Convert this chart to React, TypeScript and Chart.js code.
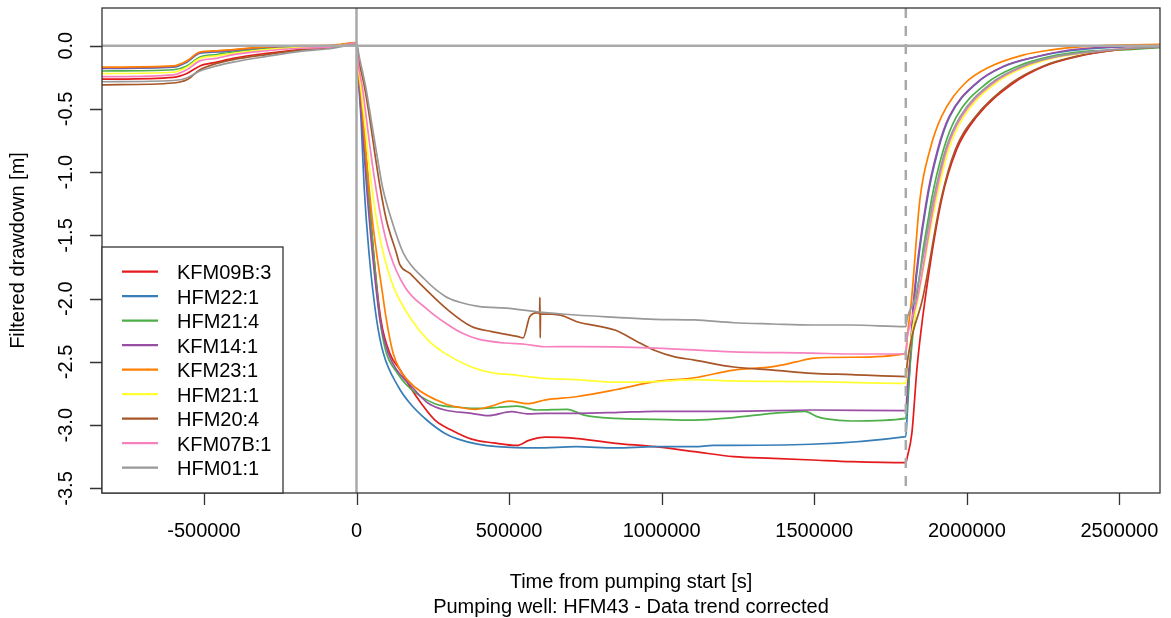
import { useEffect, useRef } from "react";
import { Chart, registerables } from "chart.js";

Chart.register(...registerables);

const FONT = '"Liberation Sans", Arial, Helvetica, sans-serif';

const seriesNames = ["KFM09B:3", "HFM22:1", "HFM21:4", "KFM14:1", "KFM23:1", "HFM21:1", "HFM20:4", "KFM07B:1", "HFM01:1"];
const seriesColors = ["#E41A1C", "#377EB8", "#4DAF4A", "#984EA3", "#FF7F00", "#FFFF33", "#A65628", "#F781BF", "#999999"];

const xTickValues = [-500000, 0, 500000, 1000000, 1500000, 2000000, 2500000];
const xTickLabels = ["-500000", "0", "500000", "1000000", "1500000", "2000000", "2500000"];
const yTickValues = [0, -0.5, -1, -1.5, -2, -2.5, -3, -3.5];
const yTickLabels = ["0.0", "-0.5", "-1.0", "-1.5", "-2.0", "-2.5", "-3.0", "-3.5"];

const xTitle = "Time from pumping start [s]";
const xSubTitle = "Pumping well: HFM43 - Data trend corrected";
const yTitle = "Filtered drawdown [m]";

const pumpStart = 0;
const pumpStop = 1800000;
const xMin = -834000;
const xMax = 2633000;
const yMin = -3.536;
const yMax = 0.298;

// [time (s), drawdown (m)]
const kfm09b3 = [
  [-834000, -0.265], [-600000, -0.25], [-556000, -0.22], [-513000, -0.16], [-458000, -0.13], [-404000, -0.1], [-294000, -0.06], [-185000, -0.03], [-76000, -0.012], [0, 0.015],
  [8000, -0.2], [22000, -0.587], [39000, -1.115], [56000, -1.641], [80000, -2.168], [109000, -2.432], [142000, -2.56], [175000, -2.696], [213000, -2.83], [257000, -2.96], [312000, -3.04], [377000, -3.11], [450000, -3.14], [526000, -3.16], [565000, -3.12], [620000, -3.095], [700000, -3.1], [849000, -3.143], [978000, -3.17], [1107000, -3.209], [1236000, -3.249], [1365000, -3.262], [1494000, -3.275], [1623000, -3.288], [1800000, -3.296],
  [1805000, -3.25], [1820000, -3.06], [1837000, -2.54], [1863000, -2.01], [1917000, -1.22], [1966000, -0.824], [2032000, -0.561], [2152000, -0.297], [2250000, -0.166], [2360000, -0.087], [2491000, -0.034], [2633000, -0.008],
];
const hfm22_1 = [
  [-834000, -0.18], [-600000, -0.17], [-556000, -0.13], [-513000, -0.06], [-458000, -0.05], [-404000, -0.04], [-294000, -0.015], [-185000, -0.005], [-76000, 0.0], [0, 0.02],
  [6000, -0.25], [15000, -0.587], [25000, -1.115], [41000, -1.641], [66000, -2.168], [88000, -2.432], [137000, -2.696], [175000, -2.827], [230000, -2.959], [290000, -3.065], [333000, -3.11], [397000, -3.15], [462000, -3.17], [591000, -3.18], [720000, -3.17], [849000, -3.18], [978000, -3.17], [1107000, -3.17], [1170000, -3.16], [1800000, -3.09],
  [1805000, -2.9], [1812000, -2.6], [1828000, -2.0], [1870000, -1.22], [1906000, -0.824], [1944000, -0.561], [2032000, -0.297], [2119000, -0.166], [2229000, -0.087], [2338000, -0.04], [2491000, -0.012], [2633000, 0.0],
];
const hfm21_4 = [
  [-834000, -0.2], [-600000, -0.19], [-556000, -0.16], [-513000, -0.09], [-458000, -0.07], [-404000, -0.05], [-294000, -0.02], [-185000, -0.01], [-76000, -0.005], [0, 0.015],
  [7000, -0.22], [19000, -0.587], [37000, -1.115], [56000, -1.641], [77000, -2.168], [98000, -2.432], [126000, -2.56], [170000, -2.696], [257000, -2.83], [344000, -2.86], [400000, -2.867], [460000, -2.86], [526000, -2.85], [591000, -2.88], [690000, -2.875], [746000, -2.92], [849000, -2.946], [978000, -2.954], [1107000, -2.96], [1236000, -2.94], [1365000, -2.906], [1470000, -2.89], [1507000, -2.93], [1540000, -2.95], [1623000, -2.967], [1800000, -2.946],
  [1805000, -2.8], [1815000, -2.5], [1835000, -2.0], [1884000, -1.22], [1923000, -0.824], [1966000, -0.561], [2065000, -0.297], [2163000, -0.166], [2272000, -0.087], [2380000, -0.047], [2540000, -0.029], [2633000, -0.015],
];
const kfm14_1 = [
  [-834000, -0.175], [-600000, -0.165], [-556000, -0.125], [-513000, -0.055], [-458000, -0.045], [-404000, -0.035], [-294000, -0.012], [-185000, -0.003], [-76000, 0.0], [0, 0.02],
  [6000, -0.22], [17000, -0.587], [33000, -1.115], [52000, -1.641], [77000, -2.168], [104000, -2.432], [131000, -2.56], [181000, -2.696], [235000, -2.827], [290000, -2.88], [377000, -2.906], [432000, -2.925], [508000, -2.893], [560000, -2.91], [617000, -2.906], [720000, -2.906], [849000, -2.9], [978000, -2.89], [1236000, -2.89], [1494000, -2.88], [1800000, -2.885],
  [1805000, -2.7], [1812000, -2.5], [1826000, -2.0], [1868000, -1.22], [1904000, -0.824], [1942000, -0.561], [2030000, -0.297], [2117000, -0.166], [2227000, -0.087], [2336000, -0.034], [2491000, -0.008], [2633000, 0.005],
];
const kfm23_1 = [
  [-834000, -0.17], [-600000, -0.16], [-556000, -0.12], [-513000, -0.05], [-458000, -0.04], [-404000, -0.03], [-294000, -0.01], [-185000, 0.0], [-76000, 0.005], [0, 0.025],
  [5000, -0.2], [12000, -0.324], [22000, -0.587], [31000, -0.851], [41000, -1.115], [52000, -1.378], [66000, -1.641], [82000, -1.905], [98000, -2.168], [120000, -2.432], [142000, -2.56], [192000, -2.7], [290000, -2.83], [340000, -2.86], [390000, -2.875], [440000, -2.85], [500000, -2.81], [560000, -2.83], [620000, -2.8], [720000, -2.775], [849000, -2.72], [978000, -2.656], [1107000, -2.625], [1236000, -2.564], [1365000, -2.537], [1440000, -2.5], [1494000, -2.471], [1623000, -2.463], [1800000, -2.432],
  [1805000, -2.3], [1819000, -2.0], [1846000, -1.22], [1879000, -0.824], [1917000, -0.561], [1994000, -0.297], [2076000, -0.166], [2184000, -0.074], [2272000, -0.035], [2380000, -0.008], [2491000, 0.005], [2633000, 0.01],
];
const hfm21_1 = [
  [-834000, -0.22], [-600000, -0.21], [-556000, -0.17], [-513000, -0.1], [-458000, -0.08], [-404000, -0.06], [-294000, -0.03], [-185000, -0.015], [-76000, -0.005], [0, 0.02],
  [5000, -0.15], [14000, -0.324], [26000, -0.587], [37000, -0.851], [50000, -1.115], [66000, -1.378], [88000, -1.641], [121000, -1.905], [181000, -2.168], [235000, -2.33], [290000, -2.432], [377000, -2.54], [454000, -2.59], [508000, -2.6], [617000, -2.63], [720000, -2.64], [849000, -2.66], [978000, -2.656], [1107000, -2.64], [1236000, -2.65], [1494000, -2.656], [1800000, -2.669],
  [1805000, -2.55], [1815000, -2.35], [1840000, -2.0], [1900000, -1.22], [1940000, -0.824], [1990000, -0.561], [2095000, -0.297], [2195000, -0.166], [2305000, -0.087], [2430000, -0.047], [2560000, -0.018], [2633000, -0.008],
];
const hfm20_4 = [
  [-834000, -0.31], [-600000, -0.295], [-556000, -0.27], [-513000, -0.19], [-458000, -0.14], [-404000, -0.11], [-294000, -0.07], [-185000, -0.035], [-76000, -0.01], [0, 0.02],
  [8000, -0.12], [26000, -0.324], [44000, -0.587], [60000, -0.851], [77000, -1.115], [98000, -1.378], [131000, -1.641], [142000, -1.73], [175000, -1.8], [218000, -1.905], [300000, -2.09], [377000, -2.22], [443000, -2.26], [530000, -2.3], [546000, -2.31], [568000, -2.14], [595000, -2.11], [600000, -2.12], [601000, -1.99], [602000, -2.31], [603000, -2.12], [668000, -2.13], [720000, -2.18], [849000, -2.25], [913000, -2.33], [978000, -2.41], [1043000, -2.46], [1107000, -2.485], [1236000, -2.54], [1365000, -2.564], [1494000, -2.59], [1623000, -2.6], [1800000, -2.616],
  [1805000, -2.5], [1820000, -2.3], [1855000, -2.0], [1915000, -1.22], [1962000, -0.824], [2028000, -0.561], [2145000, -0.297], [2245000, -0.166], [2355000, -0.087], [2490000, -0.034], [2633000, -0.01],
];
const kfm07b1 = [
  [-834000, -0.245], [-600000, -0.23], [-556000, -0.19], [-513000, -0.12], [-458000, -0.1], [-404000, -0.07], [-294000, -0.04], [-185000, -0.02], [-76000, -0.01], [0, 0.02],
  [6000, -0.15], [19000, -0.324], [33000, -0.587], [47000, -0.851], [63000, -1.115], [82000, -1.378], [109000, -1.641], [158000, -1.905], [235000, -2.09], [290000, -2.19], [344000, -2.27], [399000, -2.32], [486000, -2.35], [552000, -2.36], [617000, -2.38], [720000, -2.379], [978000, -2.39], [1236000, -2.42], [1494000, -2.43], [1623000, -2.437], [1795000, -2.437], [1800000, -2.42],
  [1805000, -2.3], [1815000, -2.2], [1838000, -2.0], [1895000, -1.22], [1934000, -0.824], [1983000, -0.561], [2086000, -0.297], [2184000, -0.166], [2294000, -0.087], [2420000, -0.047], [2550000, -0.015], [2633000, -0.005],
];
const hfm01_1 = [
  [-834000, -0.285], [-600000, -0.275], [-556000, -0.255], [-513000, -0.2], [-458000, -0.16], [-404000, -0.13], [-294000, -0.085], [-185000, -0.045], [-76000, -0.02], [0, 0.01],
  [10000, -0.1], [30000, -0.324], [48000, -0.587], [66000, -0.851], [85000, -1.115], [115000, -1.378], [154000, -1.641], [225000, -1.85], [290000, -1.98], [333000, -2.024], [399000, -2.06], [500000, -2.076], [591000, -2.103], [720000, -2.129], [849000, -2.147], [978000, -2.163], [1107000, -2.168], [1236000, -2.19], [1365000, -2.2], [1494000, -2.208], [1623000, -2.208], [1800000, -2.221],
  [1805000, -2.15], [1830000, -2.0], [1890000, -1.22], [1930000, -0.824], [1978000, -0.561], [2080000, -0.297], [2178000, -0.166], [2288000, -0.087], [2410000, -0.047], [2540000, -0.02], [2633000, -0.01],
];

const seriesData = [kfm09b3, hfm22_1, hfm21_4, kfm14_1, kfm23_1, hfm21_1, hfm20_4, kfm07b1, hfm01_1];

const decorPlugin = {
  id: "decor",
  afterDatasetsDraw(chart: any) {
    const { ctx, chartArea: a, scales } = chart;
    const xs = scales.x;
    const ys = scales.y;
    ctx.save();
    ctx.beginPath();
    ctx.rect(a.left, a.top, a.right - a.left, a.bottom - a.top);
    ctx.clip();
    ctx.strokeStyle = "#a9a9a9";
    ctx.lineWidth = 2.5;
    const y0 = ys.getPixelForValue(0);
    ctx.beginPath();
    ctx.moveTo(a.left, y0);
    ctx.lineTo(a.right, y0);
    ctx.stroke();
    const x0 = xs.getPixelForValue(pumpStart);
    ctx.beginPath();
    ctx.moveTo(x0, a.top);
    ctx.lineTo(x0, a.bottom);
    ctx.stroke();
    ctx.setLineDash([10, 8]);
    const x1 = xs.getPixelForValue(pumpStop);
    ctx.beginPath();
    ctx.moveTo(x1, a.top);
    ctx.lineTo(x1, a.bottom);
    ctx.stroke();
    ctx.restore();
  },
  afterDraw(chart: any) {
    const { ctx, chartArea: a, scales } = chart;
    const xs = scales.x;
    const ys = scales.y;
    ctx.save();
    ctx.strokeStyle = "#333333";
    ctx.lineWidth = 1.3;
    ctx.strokeRect(a.left, a.top, a.right - a.left, a.bottom - a.top);

    ctx.fillStyle = "#000000";
    ctx.font = `20px ${FONT}`;
    ctx.beginPath();
    xTickValues.forEach((v) => {
      const px = Math.round(xs.getPixelForValue(v)) + 0.5;
      ctx.moveTo(px, a.bottom);
      ctx.lineTo(px, a.bottom + 12);
    });
    yTickValues.forEach((v) => {
      const py = Math.round(ys.getPixelForValue(v)) + 0.5;
      ctx.moveTo(a.left, py);
      ctx.lineTo(a.left - 12, py);
    });
    ctx.stroke();

    ctx.textAlign = "center";
    ctx.textBaseline = "alphabetic";
    xTickValues.forEach((v, i) => {
      ctx.fillText(xTickLabels[i], xs.getPixelForValue(v), a.bottom + 44);
    });
    yTickValues.forEach((v, i) => {
      ctx.save();
      ctx.translate(a.left - 30, ys.getPixelForValue(v));
      ctx.rotate(-Math.PI / 2);
      ctx.fillText(yTickLabels[i], 0, 0);
      ctx.restore();
    });

    const cx = (a.left + a.right) / 2;
    ctx.fillText(xTitle, cx, a.bottom + 94.5);
    ctx.fillText(xSubTitle, cx, a.bottom + 119.5);
    ctx.save();
    ctx.translate(24, (a.top + a.bottom) / 2);
    ctx.rotate(-Math.PI / 2);
    ctx.fillText(yTitle, 0, 0);
    ctx.restore();

    const lx = a.left;
    const ly = a.bottom - 246;
    const lw = 181;
    const lh = 246;
    ctx.fillStyle = "#ffffff";
    ctx.fillRect(lx, ly, lw, lh);
    ctx.strokeStyle = "#333333";
    ctx.lineWidth = 1.3;
    ctx.strokeRect(lx, ly, lw, lh);
    ctx.textAlign = "left";
    seriesNames.forEach((name, i) => {
      const rowY = ly + 24.7 + i * 24.5;
      ctx.strokeStyle = seriesColors[i];
      ctx.lineWidth = 2.2;
      ctx.beginPath();
      ctx.moveTo(lx + 20, rowY);
      ctx.lineTo(lx + 56, rowY);
      ctx.stroke();
      ctx.fillStyle = "#000000";
      ctx.fillText(name, lx + 75, rowY + 7.5);
    });
    ctx.restore();
  },
};

export default function App() {
  const canvasRef = useRef<HTMLCanvasElement | null>(null);

  useEffect(() => {
    if (!canvasRef.current) return;
    const chart = new Chart(canvasRef.current, {
      type: "line",
      data: {
        datasets: seriesData.map((pts, i) => ({
          label: seriesNames[i],
          data: pts.map(([t, v]) => ({ x: t, y: v })),
          borderColor: seriesColors[i],
          backgroundColor: seriesColors[i],
          borderWidth: 1.7,
          pointRadius: 0,
          cubicInterpolationMode: "monotone",
          fill: false,
          order: -i,
        })),
      },
      options: {
        animation: false,
        responsive: false,
        events: [],
        layout: { padding: { left: 102, right: 11, top: 8, bottom: 125 } },
        scales: {
          x: { type: "linear", min: xMin, max: xMax, display: false },
          y: { type: "linear", min: yMin, max: yMax, display: false },
        },
        plugins: {
          legend: { display: false },
          tooltip: { enabled: false },
          title: { display: false },
        },
      },
      plugins: [decorPlugin],
    });
    return () => chart.destroy();
  }, []);

  return (
    <div style={{ position: "absolute", left: 0, top: 0, width: 1171, height: 618, background: "#ffffff" }}>
      <canvas ref={canvasRef} width={1171} height={618} style={{ width: 1171, height: 618, display: "block" }} />
    </div>
  );
}
